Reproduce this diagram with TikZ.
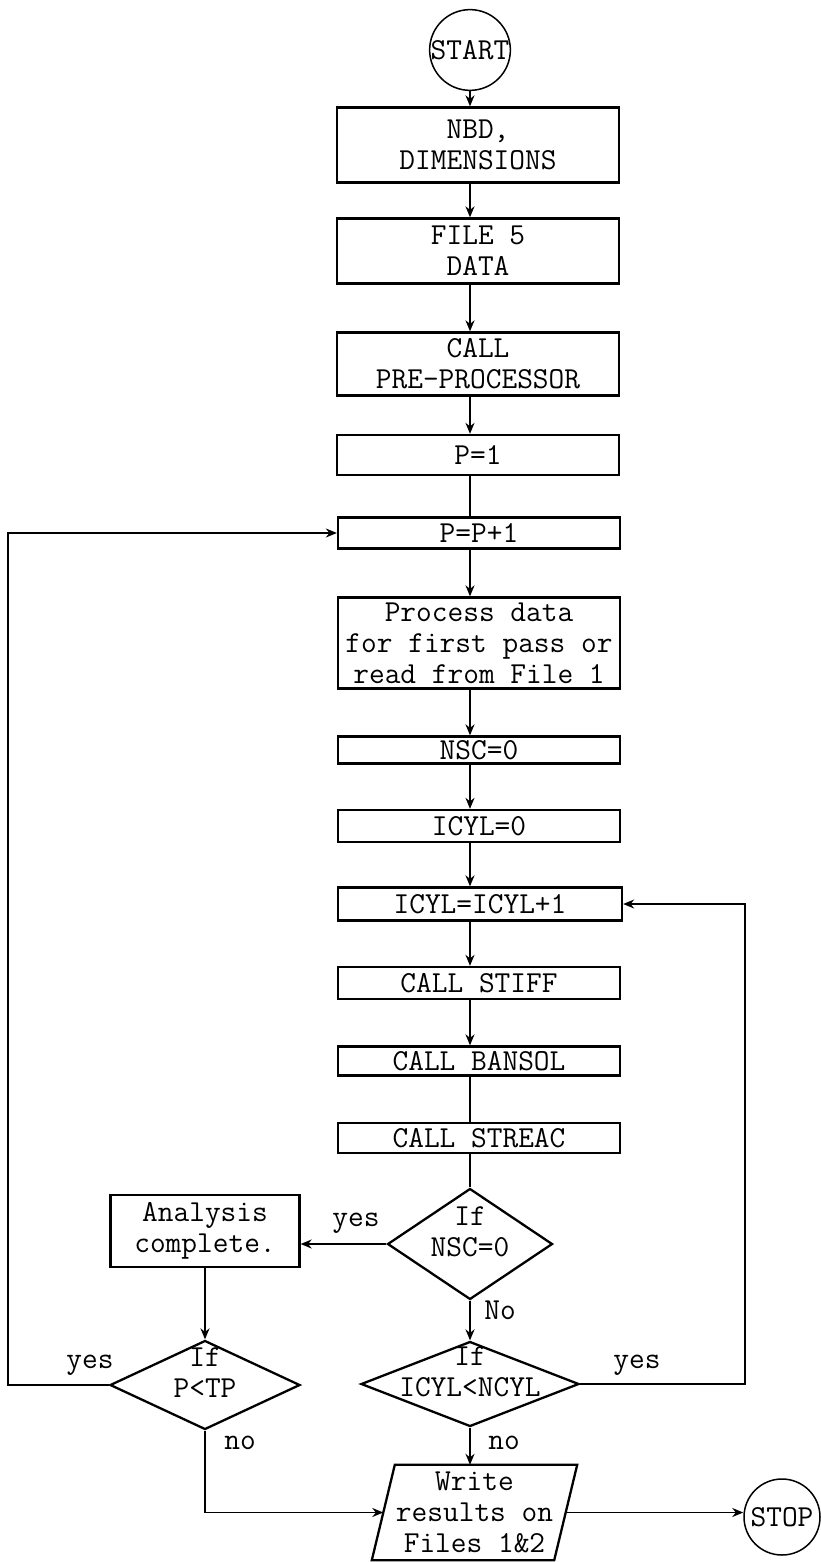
\documentclass[tikz,border=0pt]{standalone}
\usepackage{fontspec}
\usetikzlibrary{shapes.geometric,arrows.meta}
\newcommand\flowfont{\ttfamily\fontsize{30.5}{31}\selectfont}
\newcommand\dtext[1]{\raisebox{5pt}{\smash{\makebox[0pt]{\begin{tabular}{@{}c@{}}#1\end{tabular}}}}}
\begin{document}
\begin{tikzpicture}[x=1pt,y=-1pt,
  box/.style={draw, line width=2.3pt, rectangle, inner sep=0pt, minimum width=282, align=center, font=\flowfont},
  term/.style={draw, line width=1.5pt, circle, inner sep=0pt, font=\flowfont},
  decision/.style={draw, line width=2.3pt, diamond, inner sep=0pt, font=\flowfont},
  iobox/.style={inner sep=0pt, minimum width=182, minimum height=95, align=center, font=\flowfont},
  lbl/.style={inner sep=0pt, font=\flowfont},
  arr/.style={line width=1.8pt, -{Stealth[length=11pt,width=9pt]}},
  conn/.style={line width=1.8pt}]
\useasboundingbox (0,0) rectangle (821,1562);
\fill[white] (0,0) rectangle (821,1562);

% terminals
\node[term, minimum size=80] (start) at (470,50) {START};
\node[term, minimum size=76] (stop) at (782,1517) {STOP};

% main column
\node[box, minimum height=75] (nbd)    at (478,145)  {NBD,\\DIMENSIONS};
\node[box, minimum height=65] (file5)  at (478,251)  {FILE 5\\DATA};
\node[box, minimum height=63] (pre)    at (478,364)  {CALL\\PRE-PROCESSOR};
\node[box, minimum height=40] (p1)     at (478,455)  {P=1};
\node[box, minimum height=31] (pp1)    at (479,533)  {P=P+1};
\node[box, minimum height=91] (proc)   at (479,643)  {Process data\\for first pass or\\read from File 1};
\node[box, minimum height=27] (nsc)    at (479,750)  {NSC=0};
\node[box, minimum height=32] (icyl0)  at (479,826)  {ICYL=0};
\node[box, minimum height=33, minimum width=284] (icyl1) at (480,904) {ICYL=ICYL+1};
\node[box, minimum height=32] (stiff)  at (479,983)  {CALL STIFF};
\node[box, minimum height=29] (bansol) at (479,1061) {CALL BANSOL};
\node[box, minimum height=30] (streac) at (479,1138) {CALL STREAC};

% decisions
\node[decision, minimum width=165, minimum height=111] (nscq)  at (470,1244) {\dtext{If\\NSC=0}};
\node[decision, minimum width=218, minimum height=85]  (icylq) at (470,1384) {\dtext{If\\ICYL<NCYL}};
\node[decision, minimum width=190, minimum height=89]  (ptpq)  at (205,1385) {\dtext{If\\P<TP}};

% analysis complete
\node[box, minimum width=189, minimum height=72] (anal) at (205,1231) {Analysis\\complete.};

% write results (parallelogram)
\node[iobox] (write) at (474.5,1512.5) {Write\\results on\\Files 1\&2};
\draw[line width=2.3pt, line join=miter] ([xshift=-11.5pt]write.south west) -- ([xshift=11.5pt]write.north west)
  -- ([xshift=11.5pt]write.north east) -- ([xshift=-11.5pt]write.south east) -- cycle;

% loop coordinates
\coordinate (lft) at (8,0);
\coordinate (rgt) at (745,0);

% main arrows
\draw[arr] (start.south) -- (start.south |- nbd.north);
\draw[arr] (nbd.south -| start) -- (file5.north -| start);
\draw[arr] (file5.south -| start) -- (pre.north -| start);
\draw[arr] (pre.south -| start) -- (p1.north -| start);
\draw[conn] (p1.south -| start) -- (pp1.north -| start);
\draw[arr] (pp1.south -| start) -- (proc.north -| start);
\draw[arr] (proc.south -| start) -- (nsc.north -| start);
\draw[arr] (nsc.south -| start) -- (icyl0.north -| start);
\draw[arr] (icyl0.south -| start) -- (icyl1.north -| start);
\draw[arr] (icyl1.south -| start) -- (stiff.north -| start);
\draw[arr] (stiff.south -| start) -- (bansol.north -| start);
\draw[conn] (bansol.south -| start) -- (streac.north -| start);
\draw[conn] (streac.south -| start) -- (nscq.north);

% decision branches
\draw[arr] (nscq.west) -- (nscq.west -| anal.east);
\draw[arr] (anal.south) -- (ptpq.north);
\draw[arr] (nscq.south) -- (icylq.north);
\draw[arr] (icylq.south) -- (icylq.south |- write.north);
\draw[arr] (ptpq.south) |- (write.west);
\draw[arr] (write.east) -- (write.east -| stop.west);

% loops
\draw[arr] (ptpq.west) -- (ptpq.west -| lft) |- (pp1.west);
\draw[arr] (icylq.east) -- (icylq.east -| rgt) |- (icyl1.east);

% labels
\node[lbl] (l1) at (356,1223) {yes};
\node[lbl] (l2) at (500,1310) {No};
\node[lbl] (l3) at (637,1365) {yes};
\node[lbl] (l4) at (90,1365)  {yes};
\node[lbl] (l5) at (240,1443) {no};
\node[lbl] (l6) at (504,1443) {no};
\end{tikzpicture}
\end{document}
